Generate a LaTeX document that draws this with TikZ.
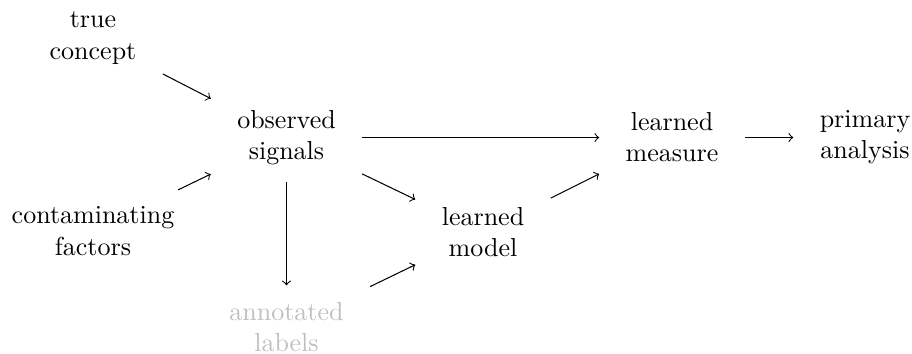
\documentclass[tikz,border=0pt]{standalone}
\begin{document}
\begin{tikzpicture}[x=0.3846pt,y=-0.3846pt,
  lbl/.style={align=center, inner xsep=10pt, inner ysep=6.3pt},
  faint/.style={lbl, text=black!25},
  arr/.style={->}]
\useasboundingbox (0,0) rectangle (912,353);
\node[lbl] (true) at (93,38) {true\\concept};
\node[lbl] (cont) at (93,231) {contaminating\\factors};
\node[lbl] (obs) at (286.5,137.5) {observed\\signals};
\node[faint] (ann) at (286.5,327) {annotated\\labels};
\node[lbl] (model) at (483,232) {learned\\model};
\node[lbl] (meas) at (672,137.5) {learned\\measure};
\node[lbl] (prim) at (865,137.5) {primary\\analysis};
\draw[arr] (true) -- (obs);
\draw[arr] (cont) -- (obs);
\draw[arr] (obs) -- (meas);
\draw[arr] (obs) -- (ann);
\draw[arr] (obs) -- (model);
\draw[arr] (ann) -- (model);
\draw[arr] (model) -- (meas);
\draw[arr] (meas) -- (prim);
\end{tikzpicture}
\end{document}
